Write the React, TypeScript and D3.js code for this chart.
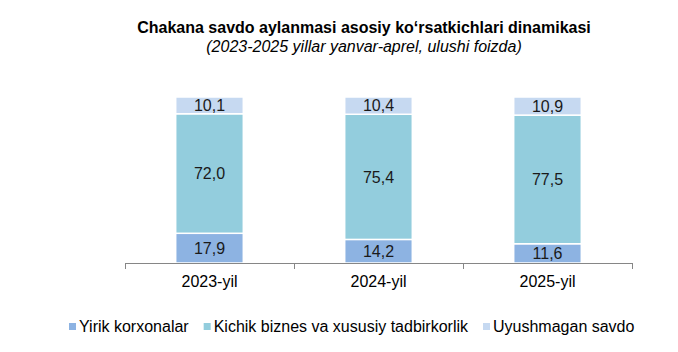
import * as d3 from "d3";
import React, { useEffect, useRef } from "react";

const years = ["2023-yil", "2024-yil", "2025-yil"];
const seriesNames = ["Yirik korxonalar", "Kichik biznes va xususiy tadbirkorlik", "Uyushmagan savdo"];
const large = [17.9, 14.2, 11.6];
const small = [72.0, 75.4, 77.5];
const unorganized = [10.1, 10.4, 10.9];
const colors = ["#8db3e2", "#93cddd", "#c6d9f1"];

const W = 678;
const H = 352;

const App = () => {
  const svgRef = useRef<SVGSVGElement>(null);

  useEffect(() => {
    const svg = d3.select(svgRef.current);
    svg.selectAll("*").remove();
    const font = "Liberation Sans, Arial, sans-serif";

    // titles
    svg.append("text")
      .attr("x", 364).attr("y", 33)
      .attr("text-anchor", "middle")
      .attr("font-family", font).attr("font-size", 16).attr("font-weight", "bold")
      .attr("fill", "#000")
      .text("Chakana savdo aylanmasi asosiy ko‘rsatkichlari dinamikasi");
    svg.append("text")
      .attr("x", 364).attr("y", 52)
      .attr("text-anchor", "middle")
      .attr("font-family", font).attr("font-size", 16).attr("font-style", "italic")
      .attr("fill", "#000")
      .text("(2023-2025 yillar yanvar-aprel, ulushi foizda)");

    const x = d3.scaleBand().domain(years).range([125, 632]).paddingInner(0.6).paddingOuter(0.3);
    const y = d3.scaleLinear().domain([0, 100]).range([263, 97]);

    const rows = years.map((yr, i) => ({ year: yr, a: large[i], b: small[i], c: unorganized[i] }));
    const stack = d3.stack<any>().keys(["a", "b", "c"])(rows);

    const g = svg.append("g");
    stack.forEach((layer, li) => {
      layer.forEach((d) => {
        const yr = d.data.year;
        g.append("rect")
          .attr("x", x(yr)!)
          .attr("y", y(d[1]))
          .attr("width", x.bandwidth())
          .attr("height", y(d[0]) - y(d[1]))
          .attr("fill", colors[li])
          .attr("stroke", "#fff")
          .attr("stroke-width", 1.5);
        g.append("text")
          .attr("x", x(yr)! + x.bandwidth() / 2)
          .attr("y", (y(d[0]) + y(d[1])) / 2)
          .attr("dy", "0.36em")
          .attr("text-anchor", "middle")
          .attr("font-family", font).attr("font-size", 16)
          .attr("fill", "#1a1a1a")
          .text(d3.format(".1f")(d[1] - d[0]).replace(".", ","));
      });
    });

    // x axis with ticks at category boundaries
    const axis = svg.append("g");
    axis.append("line")
      .attr("x1", 125).attr("x2", 632).attr("y1", 263.5).attr("y2", 263.5)
      .attr("stroke", "#868686");
    const bounds = [0, 1, 2, 3].map((i) => 125 + i * (507 / 3));
    bounds.forEach((bx) => {
      axis.append("line")
        .attr("x1", Math.round(bx) + 0.5).attr("x2", Math.round(bx) + 0.5)
        .attr("y1", 263).attr("y2", 269)
        .attr("stroke", "#868686");
    });
    years.forEach((yr) => {
      axis.append("text")
        .attr("x", x(yr)! + x.bandwidth() / 2)
        .attr("y", 287)
        .attr("text-anchor", "middle")
        .attr("font-family", font).attr("font-size", 16)
        .attr("fill", "#000")
        .text(yr);
    });

    // legend
    const leg = svg.append("g");
    let lx = 69;
    seriesNames.forEach((name, i) => {
      leg.append("rect")
        .attr("x", lx).attr("y", 323).attr("width", 7).attr("height", 7)
        .attr("fill", colors[i]);
      const t = leg.append("text")
        .attr("x", lx + 10).attr("y", 332)
        .attr("font-family", font).attr("font-size", 16)
        .attr("fill", "#000")
        .text(name);
      const w = (t.node() as SVGTextElement).getComputedTextLength();
      lx += 10 + w + 15;
    });
  }, []);

  return (
    <svg
      ref={svgRef}
      width={W}
      height={H}
      style={{ position: "absolute", left: 0, top: 0, background: "#fff" }}
    />
  );
};

export default App;
